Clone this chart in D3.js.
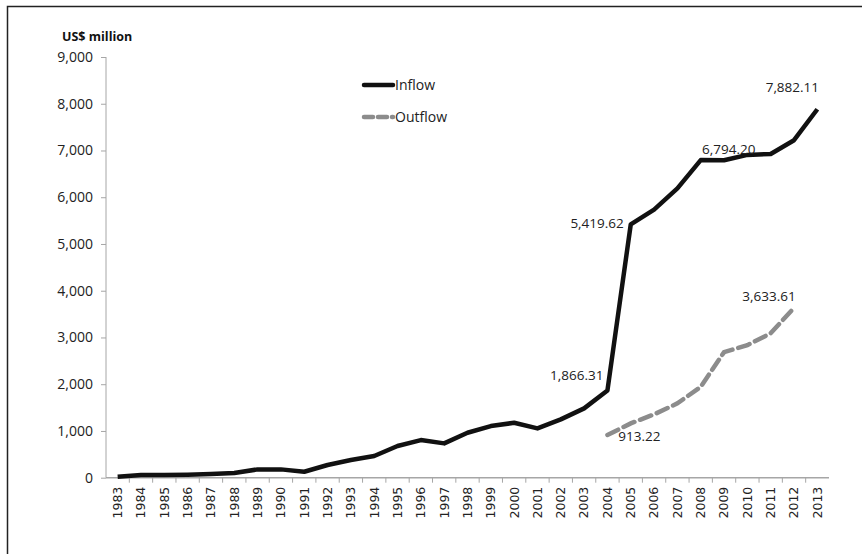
<!DOCTYPE html>
<html>
<head>
<meta charset="utf-8">
<script src="https://cdn.jsdelivr.net/npm/d3@7"></script>
<style>
  body { margin: 0; background: #fff; }
  text { font-family: "Open Sans", "Noto Sans", sans-serif; }
</style>
</head>
<body>
<script>
const years = d3.range(1983, 2014).map(String);
const inflow = [20, 58, 58, 65, 80, 100, 178, 178, 128, 271, 378, 463, 677, 805, 734,
  962, 1105, 1175, 1055, 1248, 1483, 1866.31, 5419.62, 5735, 6190, 6794.20, 6790,
  6905, 6925, 7220, 7882.11];
const outflowYears = ['2004', '2005', '2006', '2007', '2008', '2009', '2010', '2011', '2012'];
const outflow = [913.22, 1162, 1355, 1590, 1945, 2686, 2835, 3090, 3633.61];
const yTicks = [0, 1000, 2000, 3000, 4000, 5000, 6000, 7000, 8000, 9000];
const labels = [
  {series: 'in', year: '2004', text: '1,866.31', dx: -4, dy: -10, anchor: 'end'},
  {series: 'in', year: '2005', text: '5,419.62', dx: -7, dy: 4, anchor: 'end'},
  {series: 'in', year: '2008', text: '6,794.20', dx: 28, dy: -6, anchor: 'middle'},
  {series: 'in', year: '2013', text: '7,882.11', dx: -25, dy: -17, anchor: 'middle'},
  {series: 'out', year: '2012', text: '3,633.61', dx: -25, dy: -7, anchor: 'middle'},
  {series: 'out', year: '2004', text: '913.22', dx: 32, dy: 6, anchor: 'middle'}
];

const width = 862, height = 554;
const margin = {top: 57, left: 106, right: 33, bottom: 76};

const svg = d3.select('body').append('svg')
  .attr('width', width)
  .attr('height', height);

// frame (top and left edges only show)
svg.append('path')
  .attr('d', `M7.5,${height} V6.5 H${width}`)
  .attr('fill', 'none')
  .attr('stroke', '#222')
  .attr('stroke-width', 1.5);

const x = d3.scaleBand()
  .domain(years)
  .range([margin.left, width - margin.right]);

const y = d3.scaleLinear()
  .domain([0, 9000])
  .range([height - margin.bottom - 0.3, margin.top]);

const xc = d => x(d) + x.bandwidth() / 2;

// y axis
const yAxis = svg.append('g')
  .attr('transform', `translate(${margin.left},0)`)
  .call(d3.axisLeft(y).tickValues(yTicks).tickSize(5).tickPadding(8)
    .tickFormat(d3.format(',')));
yAxis.selectAll('line, path').attr('stroke', '#a6a6a6');
yAxis.select('.domain').attr('d', `M0,${y(0)}V${y(9000)}`);
yAxis.selectAll('text')
  .attr('fill', '#222')
  .style('font-size', '14px');

// x axis with ticks between categories
const xAxis = svg.append('g')
  .attr('transform', `translate(0,${y(0)})`)
  .call(d3.axisBottom(x).tickSize(0).tickPadding(8));
xAxis.select('.domain').attr('d', `M${margin.left},0H${width - margin.right}`)
  .attr('stroke', '#a6a6a6').attr('stroke-width', 1.5);
xAxis.selectAll('.tick text')
  .attr('transform', 'rotate(-90)')
  .attr('text-anchor', 'end')
  .attr('x', -9)
  .attr('y', 0)
  .attr('dy', '0.35em')
  .style('font-family', '"DejaVu Sans", Verdana, sans-serif')
  .style('font-size', '12.5px')
  .attr('fill', '#222');
xAxis.selectAll('.sep')
  .data(years.slice(1))
  .enter().append('line')
  .attr('x1', d => x(d)).attr('x2', d => x(d))
  .attr('y1', 0).attr('y2', 5)
  .attr('stroke', '#a6a6a6');

svg.append('text')
  .attr('x', 62).attr('y', 41)
  .style('font-size', '12.5px')
  .style('font-weight', 'bold')
  .attr('fill', '#111')
  .text('US$ million');

const line = d3.line().x(d => xc(d[0])).y(d => y(d[1]));

svg.append('path')
  .datum(years.map((yr, i) => [yr, inflow[i]]))
  .attr('d', line)
  .attr('fill', 'none')
  .attr('stroke', '#111')
  .attr('stroke-width', 4.5)
  .attr('stroke-linejoin', 'round');

svg.append('path')
  .datum(outflowYears.map((yr, i) => [yr, outflow[i]]))
  .attr('d', line)
  .attr('fill', 'none')
  .attr('stroke', '#8c8c8c')
  .attr('stroke-width', 4.5)
  .attr('stroke-dasharray', '12,6')
  .attr('stroke-linecap', 'round');

// data labels
svg.selectAll('.dl')
  .data(labels)
  .enter().append('text')
  .attr('x', d => xc(d.year) + d.dx)
  .attr('y', d => {
    const v = d.series === 'in' ? inflow[years.indexOf(d.year)] : outflow[outflowYears.indexOf(d.year)];
    return y(v) + d.dy;
  })
  .attr('text-anchor', d => d.anchor)
  .style('font-size', '13.5px')
  .attr('fill', '#222')
  .text(d => d.text);

// legend
const legend = [
  {name: 'Inflow', color: '#111', dash: null, y: 85},
  {name: 'Outflow', color: '#8c8c8c', dash: '9,5', y: 117}
];
const lg = svg.selectAll('.lg').data(legend).enter().append('g');
lg.append('line')
  .attr('x1', 364).attr('x2', 393)
  .attr('y1', d => d.y).attr('y2', d => d.y)
  .attr('stroke', d => d.color)
  .attr('stroke-width', 4.5)
  .attr('stroke-linecap', 'round')
  .attr('stroke-dasharray', d => d.dash);
lg.append('text')
  .attr('x', 395).attr('y', d => d.y + 5)
  .style('font-size', '14px')
  .attr('fill', '#222')
  .text(d => d.name);
</script>
</body>
</html>
